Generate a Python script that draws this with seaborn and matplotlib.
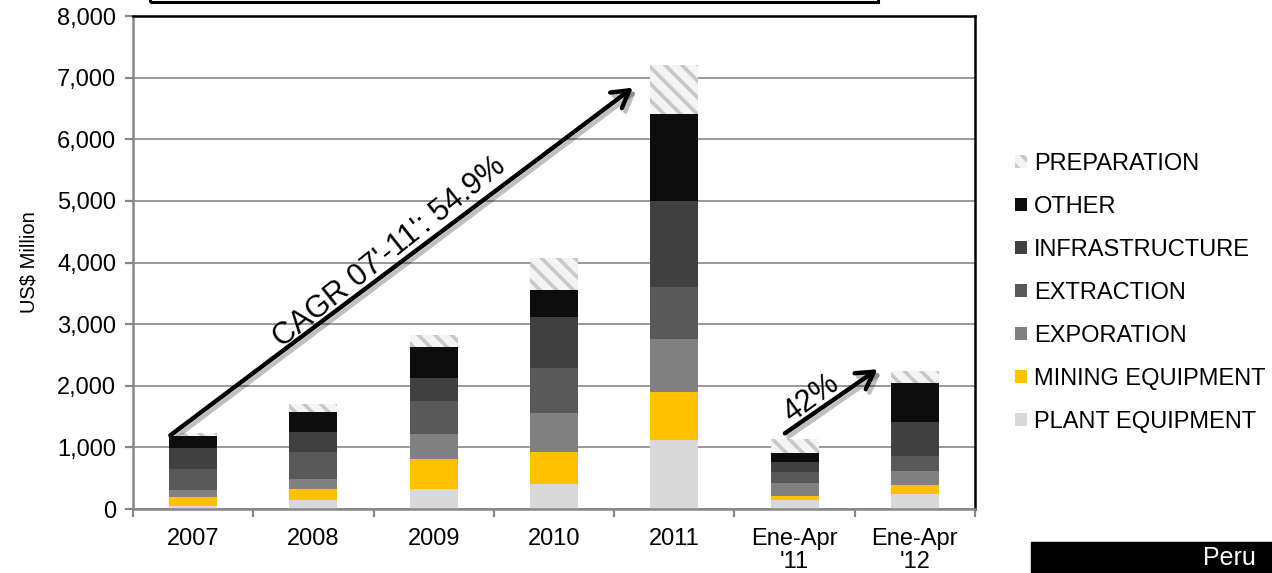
import matplotlib
matplotlib.use("Agg")
import matplotlib.pyplot as plt
import matplotlib.patheffects as pe
from matplotlib.patches import Patch, Rectangle
from matplotlib.ticker import FuncFormatter, FixedLocator
import numpy as np
import seaborn as sns

# Mining investment by category, US$ million
categories = ["2007", "2008", "2009", "2010", "2011", "Ene-Apr\n'11", "Ene-Apr\n'12"]
plant_equipment = [50, 138, 317, 409, 1114, 150, 241]
mining_equipment = [140, 179, 493, 521, 786, 65, 141]
exploration = [125, 163, 401, 623, 851, 200, 228]
extraction = [336, 444, 537, 727, 851, 178, 255]
infrastructure = [342, 325, 374, 828, 1398, 174, 542]
other = [189, 326, 499, 439, 1409, 140, 639]
preparation = [55, 124, 195, 518, 802, 223, 190]

series_names = ["PLANT EQUIPMENT", "MINING EQUIPMENT", "EXPORATION", "EXTRACTION",
                "INFRASTRUCTURE", "OTHER", "PREPARATION"]
series_values = [plant_equipment, mining_equipment, exploration, extraction,
                 infrastructure, other, preparation]
series_colors = ["#d9d9d9", "#ffc000", "#808080", "#595959", "#404040", "#0d0d0d", "#f4f4f4"]
hatch_color = "#c8c8c8"

cagr_label = "CAGR 07'-11': 54.9%"
ytd_label = "42%"

sns.set_style("white")
plt.rcParams["font.family"] = ["Liberation Sans", "DejaVu Sans"]
plt.rcParams["hatch.linewidth"] = 2.6
plt.rcParams["text.color"] = "black"
plt.rcParams["axes.labelcolor"] = "black"
plt.rcParams["xtick.color"] = "black"
plt.rcParams["ytick.color"] = "black"

fig = plt.figure(figsize=(12.72, 5.73), dpi=100)
ax = fig.add_axes([133 / 1272, 1 - 509 / 573, (975 - 133) / 1272, (509 - 16) / 573])

# stacked bars: draw cumulative totals from the top layer down
cum = np.cumsum(np.array(series_values), axis=0)
for i in range(len(series_names) - 1, -1, -1):
    n_before = len(ax.patches)
    sns.barplot(x=categories, y=cum[i], color=series_colors[i], width=0.4,
                saturation=1, linewidth=0, errorbar=None, ax=ax)
    if series_names[i] == "PREPARATION":
        for p in ax.patches[n_before:]:
            p.set_hatch("\\\\")
            p.set_edgecolor(hatch_color)
            p.set_linewidth(0)

ax.set_ylim(0, 8000)
ax.set_xlim(-0.5, len(categories) - 0.5)
ax.set_yticks(np.arange(0, 8001, 1000))
ax.yaxis.set_major_formatter(FuncFormatter(lambda v, _: f"{int(v):,}"))
ax.yaxis.grid(True, color="#878787", linewidth=1.2)
ax.set_axisbelow(True)

ax.set_xlabel("")
ax.set_ylabel("US$ Million", fontsize=14.5, color="black")
ax.yaxis.set_label_coords(-0.112, 0.5)

# category labels centred, tick marks between categories
ax.xaxis.set_minor_locator(FixedLocator(np.arange(-0.5, len(categories), 1.0)))
ax.tick_params(axis="x", which="major", length=0, pad=14, labelsize=17,
               labelcolor="black")
ax.tick_params(axis="x", which="minor", length=6, width=1.6, color="#878787",
               direction="out", bottom=True)
ax.tick_params(axis="y", which="major", length=6, width=1.6, color="#878787",
               pad=6, labelsize=17, labelcolor="black", left=True)
for lab in ax.get_xticklabels():
    lab.set_linespacing(1.05)

for side in ["left", "bottom"]:
    ax.spines[side].set_color("#878787")
    ax.spines[side].set_linewidth(1.8)
for side in ["top", "right"]:
    ax.spines[side].set_color("black")
    ax.spines[side].set_linewidth(1.8)
    ax.spines[side].set_visible(True)

# growth arrows
shadow = [pe.SimpleLineShadow(offset=(2.5, -2.5), shadow_color="black", alpha=0.25),
          pe.Normal()]
arrow_kw = dict(arrowstyle="->,head_length=0.6,head_width=0.35", lw=3.2,
                color="black", mutation_scale=20, shrinkA=0, shrinkB=0)
a1 = ax.annotate("", xy=(3.656, 6837), xytext=(-0.19, 1195), arrowprops=arrow_kw)
a1.arrow_patch.set_path_effects(shadow)
a2 = ax.annotate("", xy=(5.69, 2268), xytext=(4.92, 1228), arrowprops=arrow_kw)
a2.arrow_patch.set_path_effects(shadow)

ax.text(1.636, 4171, cagr_label, rotation=38.5, rotation_mode="anchor",
        ha="center", va="center", fontsize=22, color="black")
ax.text(5.14, 1800, ytd_label, rotation=36, rotation_mode="anchor",
        ha="center", va="center", fontsize=22, color="black")

# legend, top entry first
order = list(range(len(series_names) - 1, -1, -1))
handles = []
for i in order:
    if series_names[i] == "PREPARATION":
        handles.append(Patch(facecolor=series_colors[i], edgecolor=hatch_color,
                             hatch="\\\\", linewidth=0, label=series_names[i]))
    else:
        handles.append(Patch(facecolor=series_colors[i], linewidth=0,
                             label=series_names[i]))
leg = fig.legend(handles=handles, loc="upper left",
                 bbox_to_anchor=(1015 / 1272, 1 - 153 / 573), frameon=False,
                 fontsize=17, handlelength=0.5, handleheight=0.5, handletextpad=0.3,
                 labelspacing=0.89, borderpad=0, borderaxespad=0)
for t in leg.get_texts():
    t.set_color("black")

# title frame edge and footer box
fig.patches.append(Rectangle((150 / 1272, 1 - 1.5 / 573), (878 - 150) / 1272, 0.2,
                             transform=fig.transFigure, fill=False,
                             edgecolor="black", linewidth=2.2))
fig.patches.append(Rectangle((1031 / 1272, 0), 0.3, (573 - 542) / 573,
                             transform=fig.transFigure, facecolor="black",
                             edgecolor="black"))
fig.text(1203 / 1272, 1 - 558 / 573, "Peru", color="white", fontsize=18,
         ha="left", va="center")

fig.savefig("out.png", dpi=100)
